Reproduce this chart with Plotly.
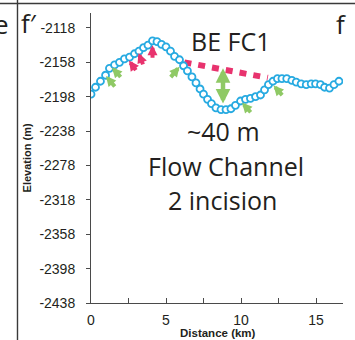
import plotly.graph_objects as go

# Bathymetric profile along flow channel BE FC1
distance_km = [0.0, 0.3, 0.63, 0.97, 1.23, 1.57, 1.9, 2.23, 2.57, 2.9, 3.2, 3.5, 3.8, 4.1,
               4.4, 4.7, 5.0, 5.3, 5.57, 5.9, 6.17, 6.43, 6.73, 7.0, 7.27, 7.5, 7.77, 8.03,
               8.33, 8.67, 9.0, 9.33, 9.63, 9.97, 10.3, 10.63, 10.97, 11.3, 11.57, 11.83,
               12.13, 12.43, 12.73, 13.05, 13.39, 13.68, 14.01, 14.35, 14.68, 14.97, 15.3,
               15.57, 15.9, 16.2, 16.53]
elevation_m = [-2195, -2187, -2180, -2173, -2165, -2161, -2158, -2154, -2152, -2148, -2145,
               -2141, -2138, -2133, -2134, -2137, -2140, -2145, -2151, -2155, -2162, -2168,
               -2175, -2182, -2189, -2195, -2201, -2206, -2211, -2213, -2213, -2212, -2208,
               -2203, -2201, -2200, -2198, -2196, -2190, -2184, -2180, -2177, -2177, -2177,
               -2179, -2181, -2183, -2184, -2183, -2183, -2184, -2187, -2188, -2184, -2180]

# Channel rim-to-rim reference line
rim_km = [6.23, 11.79]
rim_elev = [-2158, -2176]

# Incision depth marker (rim to thalweg)
depth_km = 8.8
depth_top = -2163
depth_bottom = -2206

y_ticks = [-2118, -2158, -2198, -2238, -2278, -2318, -2358, -2398, -2438]
y_tick_text = ["-2118", "-2158", "-2198", "-2238", "-2278", "-2318", "-2358", "-2398", "-2438"]
x_ticks = [0, 2.5, 5, 7.5, 10, 12.5, 15]
x_tick_text = ["0", "", "5", "", "10", "", "15"]

BLUE = "#27aae1"
PINK = "#e8336e"
GREEN = "#8fc965"
INK = "#231f20"
BIG_FONT = "Open Sans"
AX_FONT = "Liberation Sans"

fig = go.Figure()

fig.add_trace(go.Scatter(
    x=rim_km, y=rim_elev, mode="lines",
    line=dict(color=PINK, width=6, dash="7px,7px"),
    hoverinfo="skip",
))

fig.add_trace(go.Scatter(
    x=distance_km, y=elevation_m, mode="lines+markers",
    line=dict(color=BLUE, width=1.5),
    marker=dict(symbol="circle", size=7, color="white",
                line=dict(color=BLUE, width=1.8)),
))

annotations = []

# Small arrows: (tip x, tip y in data units, tail offset in px, colour)
small_arrows = [
    (1.0, -2174, 10, 12, GREEN),
    (1.4, -2164, 10, 11, GREEN),
    (2.53, -2156, 8, 11, PINK),
    (3.17, -2147, 5, 13, PINK),
    (4.1, -2138, 0, 14, PINK),
    (5.9, -2163, -10, 12, GREEN),
    (10.07, -2205, 10, 11, GREEN),
    (12.17, -2185, 10, 11, GREEN),
]
for tx, ty, dx, dy, col in small_arrows:
    annotations.append(dict(
        x=tx, y=ty, xref="x", yref="y", ax=dx, ay=dy,
        showarrow=True, arrowhead=2, arrowsize=0.5, arrowwidth=4,
        arrowcolor=col, standoff=0, text="",
    ))

# Double-headed depth arrow
annotations.append(dict(
    x=depth_km, y=depth_bottom, xref="x", yref="y",
    ax=depth_km, ay=depth_top, axref="x", ayref="y",
    showarrow=True, arrowhead=2, startarrowhead=2, arrowside="end+start",
    arrowsize=0.65, startarrowsize=0.65, arrowwidth=4.5,
    arrowcolor=GREEN, standoff=0, startstandoff=0, text="",
))

# Labels inside the plot
for txt, xx, yy in [("BE FC1", 9.3, -2133), ("~40 m", 8.83, -2238),
                    ("Flow Channel", 8.97, -2279), ("2 incision", 8.77, -2318)]:
    annotations.append(dict(
        x=xx, y=yy, xref="x", yref="y", text=txt, showarrow=False,
        font=dict(family=BIG_FONT, size=25, color=INK),
        xanchor="center", yanchor="middle",
    ))

# Panel letters
for txt, px, py in [("f\u2032", -0.246, 0.965), ("f", 0.992, 0.962), ("e", -0.357, 0.962)]:
    annotations.append(dict(
        x=px, y=py, xref="paper", yref="paper", text=txt, showarrow=False,
        font=dict(family=BIG_FONT, size=26, color=INK),
        xanchor="center", yanchor="middle",
    ))

# Axis titles
annotations.append(dict(
    x=-0.254, y=0.502, xref="paper", yref="paper", text="<b>Elevation (m)</b>",
    textangle=-90, showarrow=False, xanchor="center", yanchor="middle",
    font=dict(family=AX_FONT, size=11, color=INK),
))
annotations.append(dict(
    x=0.504, y=-0.1045, xref="paper", yref="paper", text="<b>Distance (km)</b>",
    showarrow=False, xanchor="center", yanchor="middle",
    font=dict(family=AX_FONT, size=11.5, color=INK),
))

# Panel frame lines
shapes = [
    dict(type="line", xref="paper", yref="paper", x0=-0.2917, x1=-0.2917,
         y0=1.06, y1=-0.14, line=dict(color="#3a3a3a", width=1.4)),
    dict(type="line", xref="paper", yref="paper", x0=-0.37, x1=1.06,
         y0=1.0328, y1=1.0328, line=dict(color="#3a3a3a", width=1.4)),
]

fig.update_layout(
    width=355, height=340,
    margin=dict(l=91, r=12, t=13, b=37),
    paper_bgcolor="white", plot_bgcolor="white",
    showlegend=False,
    annotations=annotations,
    shapes=shapes,
    xaxis=dict(
        range=[0, 16.8], tickvals=x_ticks, ticktext=x_tick_text,
        showline=True, linecolor="#4a4a4a", linewidth=1,
        ticks="inside", ticklen=5, tickcolor="#4a4a4a", tickwidth=1,
        showgrid=False, zeroline=False,
        tickfont=dict(family=AX_FONT, size=14, color=INK),
        ticklabelstandoff=4,
    ),
    yaxis=dict(
        range=[-2438, -2100.6], tickvals=y_ticks, ticktext=y_tick_text,
        showline=True, linecolor="#4a4a4a", linewidth=1,
        ticks="outside", ticklen=4, tickcolor="#4a4a4a", tickwidth=1,
        showgrid=False, zeroline=False,
        tickfont=dict(family=AX_FONT, size=14, color=INK),
        ticklabelstandoff=8,
    ),
)

fig.write_html("out.html")
